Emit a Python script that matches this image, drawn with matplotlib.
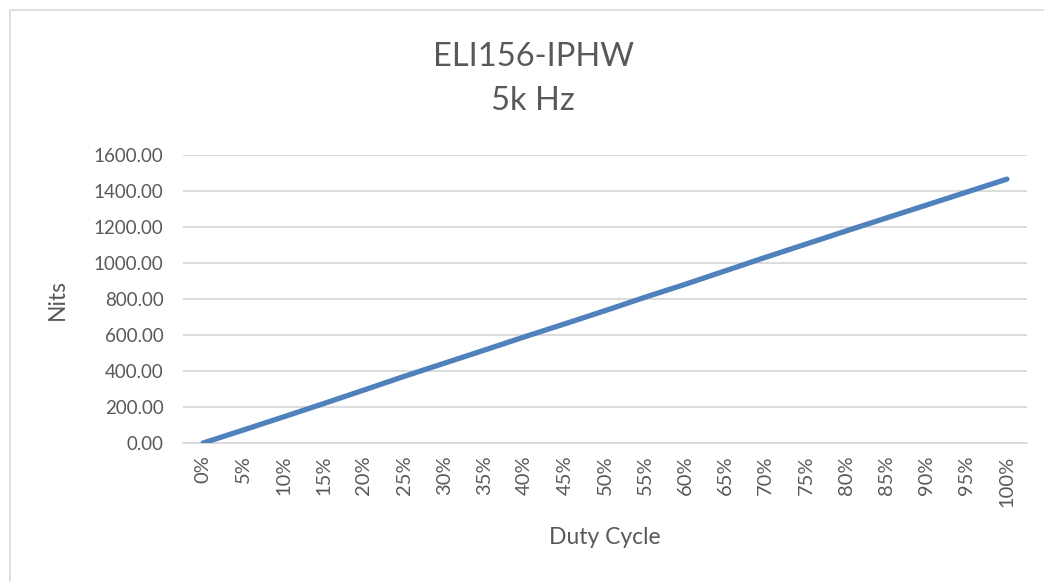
import matplotlib
matplotlib.use("Agg")
import matplotlib.pyplot as plt
from matplotlib.patches import Rectangle

plt.rcParams['font.family'] = ['Lato', 'DejaVu Sans']

duty_labels = ["0%", "5%", "10%", "15%", "20%", "25%", "30%", "35%", "40%", "45%", "50%",
               "55%", "60%", "65%", "70%", "75%", "80%", "85%", "90%", "95%", "100%"]
nits = [0, 72, 145, 219, 294, 370, 443, 516, 590, 662, 735,
        810, 882, 957, 1032, 1105, 1178, 1250, 1322, 1394, 1466]

TEXT = "#595959"
GRID = "#D9D9D9"
LINE = "#4F81BD"

W, H = 1044, 582
fig = plt.figure(figsize=(W / 100, H / 100), dpi=100)
# chart area border
fig.patches.append(Rectangle((10 / W, -0.1), 1.2, 1 - 10 / H + 0.1,
                             transform=fig.transFigure, fill=False,
                             edgecolor=GRID, lw=1.2))

ax = fig.add_axes([183 / W, 1 - 443 / H, (1027 - 183) / W, (443 - 155) / H])
x = list(range(len(nits)))
ax.plot(x, nits, color=LINE, lw=3.8, solid_capstyle='round', solid_joinstyle='round',
        zorder=3)

ax.set_xlim(-0.5, len(nits) - 0.5)
ax.set_ylim(0, 1600)
ax.set_yticks(range(0, 1601, 200))
ax.set_yticklabels([f"{v:.2f}" for v in range(0, 1601, 200)])
ax.set_xticks(x)
ax.set_xticklabels(duty_labels, rotation=90)

ax.grid(axis='y', color=GRID, lw=1.3)
ax.set_axisbelow(True)
for s in ['top', 'right', 'left']:
    ax.spines[s].set_visible(False)
ax.spines['bottom'].set_color(GRID)
ax.spines['bottom'].set_linewidth(1.3)
ax.tick_params(axis='both', length=0, labelcolor=TEXT)
ax.tick_params(axis='x', pad=9, labelsize=14.5)
ax.tick_params(axis='y', pad=14, labelsize=13.5)

fig.text(57 / W, 1 - 300 / H, "Nits", rotation=90, ha='center', va='center',
         color=TEXT, fontsize=16.5)
fig.text(605 / W, 1 - 538 / H, "Duty Cycle", ha='center', va='center',
         color=TEXT, fontsize=16.5)

fig.text(533 / W, 1 - 57 / H, "ELI156-IPHW", ha='center', va='center',
         color=TEXT, fontsize=23.5)
fig.text(533 / W, 1 - 101 / H, "5k Hz", ha='center', va='center',
         color=TEXT, fontsize=23.5)

fig.savefig("out.png", dpi=100)
